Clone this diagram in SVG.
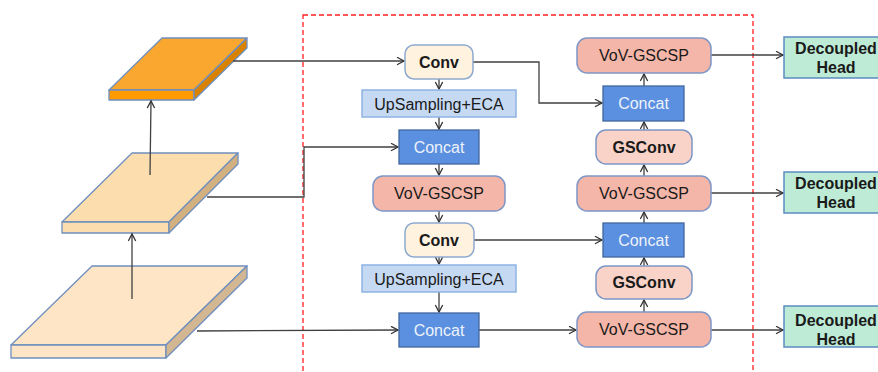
<svg xmlns="http://www.w3.org/2000/svg" width="878" height="372" viewBox="0 0 878 372">
<defs>
<marker id="arr" markerUnits="userSpaceOnUse" markerWidth="10" markerHeight="10" refX="8" refY="4.5" orient="auto">
<path d="M1,0.8 L8,4.5 L1,8.2" fill="none" stroke="#333" stroke-width="1.3"/>
</marker>
<style>
.t{font-family:"Liberation Sans",Arial,sans-serif;font-size:16px;text-anchor:middle;dominant-baseline:central;fill:#1a1a1a}
.b{font-weight:bold}
.w{fill:#eef3fb}
.conv{fill:#FFF2DF;stroke:#8EA9D0;stroke-width:1.5}
.up{fill:#C6D9F3;stroke:#8DB3E2;stroke-width:1.5}
.cat{fill:#5B8FDF;stroke:#41679F;stroke-width:1.3}
.vov{fill:#F4B6A8;stroke:#7F97C6;stroke-width:1.5}
.gs{fill:#F9D2C8;stroke:#7F97C6;stroke-width:1.5}
.dh{fill:#BDEBD6;stroke:#5B8CC0;stroke-width:1.5}
.sl{stroke:#6F8FBF;stroke-width:1.3;stroke-linejoin:round}
.c{fill:none;stroke:#404040;stroke-width:1.3;marker-end:url(#arr)}
.cn{fill:none;stroke:#404040;stroke-width:1.3}
</style>
</defs>
<rect width="878" height="372" fill="#fff"/>

<rect x="303" y="15" width="450" height="380" fill="none" stroke="#FF2020" stroke-width="1.3" stroke-dasharray="5,3"/>

<g id="slab-top">
<polygon class="sl" points="162,38 247,38 194,90 109,90" fill="#F9A72F"/>
<polygon class="sl" points="109,90 194,90 194,100 109,100" fill="#FF9A00"/>
<polygon class="sl" points="194,90 247,38 247,48 194,100" fill="#D98200"/>
</g>
<g id="slab-mid">
<polygon class="sl" points="132,153 238,153 169,222 62,222" fill="#FCDDAE"/>
<polygon class="sl" points="62,222 169,222 169,233 62,233" fill="#FCDDAE"/>
<polygon class="sl" points="169,222 238,153 238,164 169,233" fill="#D3B07F"/>
</g>
<g id="slab-bot">
<polygon class="sl" points="92,266 247,266 166,345 11,345" fill="#FDE5C5"/>
<polygon class="sl" points="11,345 166,345 166,358 11,358" fill="#FDE5C5"/>
<polygon class="sl" points="166,345 247,266 247,278 166,358" fill="#D2B792"/>
</g>

<g id="connectors">
<path class="c" d="M132,299 L132,234"/>
<path class="c" d="M150,175 L151,101"/>
<path class="c" d="M233,61 L404,61"/>
<path class="c" d="M207,197 L304,197 L304,147 L398,147"/>
<path class="c" d="M197,331 L398,330"/>
<path class="c" d="M439,79 L439,89"/>
<path class="c" d="M439,117 L439,129"/>
<path class="c" d="M439,164 L439,175"/>
<path class="c" d="M439,211 L439,222"/>
<path class="c" d="M439,257 L439,264"/>
<path class="c" d="M439,292 L439,312"/>
<path class="c" d="M473,62 L539,62 L539,103 L602,103"/>
<path class="c" d="M474,240 L602,240"/>
<path class="c" d="M479,330 L576,330"/>
<path class="c" d="M644,312 L644,300"/>
<path class="c" d="M644,266 L644,258"/>
<path class="c" d="M644,223 L644,212"/>
<path class="c" d="M644,176 L644,165"/>
<path class="c" d="M644,130 L644,122"/>
<path class="c" d="M644,86 L644,74"/>
<path class="c" d="M711,55 L783,55"/>
<path class="c" d="M711,193 L783,193"/>
<path class="c" d="M711,330 L783,330"/>
</g>

<g id="conv1"><rect class="conv" x="405" y="45" width="68" height="34" rx="9"/><text class="t b" x="439" y="62">Conv</text></g>
<g id="up1"><rect class="up" x="362" y="90" width="154" height="27"/><text class="t" x="439" y="104">UpSampling+ECA</text></g>
<g id="concat1"><rect class="cat" x="399" y="130" width="80" height="34"/><text class="t w" x="439" y="147">Concat</text></g>
<g id="vov1"><rect class="vov" x="373" y="176" width="132" height="35" rx="10"/><text class="t" x="439" y="193.5">VoV-GSCSP</text></g>
<g id="conv2"><rect class="conv" x="405" y="223" width="69" height="34" rx="9"/><text class="t b" x="439" y="240">Conv</text></g>
<g id="up2"><rect class="up" x="362" y="265" width="154" height="27"/><text class="t" x="439" y="279">UpSampling+ECA</text></g>
<g id="concat2"><rect class="cat" x="399" y="313" width="80" height="34"/><text class="t w" x="439" y="330">Concat</text></g>

<g id="vov-r1"><rect class="vov" x="577" y="38" width="134" height="35" rx="10"/><text class="t" x="644" y="55.5">VoV-GSCSP</text></g>
<g id="concat-r1"><rect class="cat" x="603" y="86" width="81" height="35"/><text class="t w" x="643.5" y="103.5">Concat</text></g>
<g id="gsconv1"><rect class="gs" x="596" y="130" width="96" height="34" rx="10"/><text class="t b" x="644" y="147">GSConv</text></g>
<g id="vov-r2"><rect class="vov" x="577" y="176" width="134" height="35" rx="10"/><text class="t" x="644" y="193.5">VoV-GSCSP</text></g>
<g id="concat-r2"><rect class="cat" x="603" y="223" width="81" height="34"/><text class="t w" x="643.5" y="240">Concat</text></g>
<g id="gsconv2"><rect class="gs" x="596" y="266" width="96" height="33" rx="10"/><text class="t b" x="644" y="282.5">GSConv</text></g>
<g id="vov-r3"><rect class="vov" x="577" y="312" width="134" height="35" rx="10"/><text class="t" x="644" y="329.5">VoV-GSCSP</text></g>

<g id="dh1"><rect class="dh" x="784" y="37" width="104" height="41"/><text class="t b" x="836" y="48">Decoupled</text><text class="t b" x="836" y="67">Head</text></g>
<g id="dh2"><rect class="dh" x="784" y="172" width="104" height="41"/><text class="t b" x="836" y="183">Decoupled</text><text class="t b" x="836" y="202">Head</text></g>
<g id="dh3"><rect class="dh" x="784" y="306" width="104" height="41"/><text class="t b" x="836" y="320">Decoupled</text><text class="t b" x="836" y="339">Head</text></g>
</svg>
